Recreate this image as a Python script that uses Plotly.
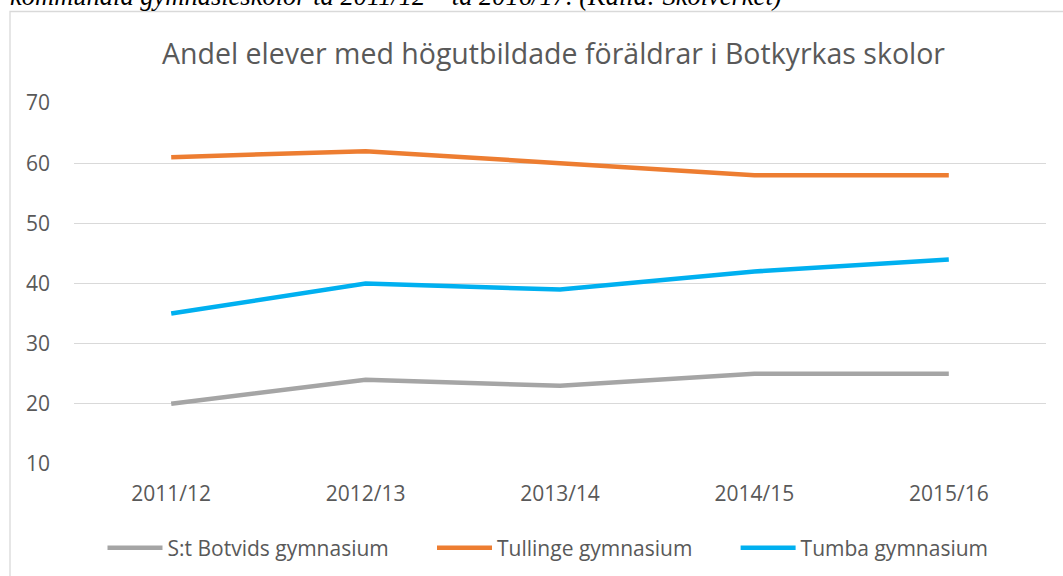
import plotly.graph_objects as go

categories = ["2011/12", "2012/13", "2013/14", "2014/15", "2015/16"]
botvid = [20, 24, 23, 25, 25]
tullinge = [61, 62, 60, 58, 58]
tumba = [35, 40, 39, 42, 44]
y_ticks = [10, 20, 30, 40, 50, 60, 70]

series = [
    ("S:t Botvids gymnasium", botvid, "#A5A5A5"),
    ("Tullinge gymnasium", tullinge, "#ED7D31"),
    ("Tumba gymnasium", tumba, "#00B0F0"),
]

W, H = 1063, 576
L, R, T, B = 74, 1046, 103, 464  # plot area in px


def px_x(px):
    return (px - L) / (R - L)


def px_y(py):
    return (B - py) / (B - T)


PAD = "\u00a0" * 7  # extra spacing between legend entries

fig = go.Figure()
for name, vals, col in series:
    fig.add_trace(go.Scatter(
        x=categories, y=vals, name=name + PAD, mode="lines",
        line=dict(color=col, width=4.5),
    ))

FONT = "Open Sans"
TXT = "#595959"

fig.update_layout(
    width=W, height=H,
    margin=dict(l=L, r=W - R, t=T, b=H - B, autoexpand=False),
    paper_bgcolor="white", plot_bgcolor="white",
    font=dict(family=FONT, color=TXT, size=21),
    showlegend=True,
    legend=dict(
        orientation="h", xref="container", yref="container",
        x=567 / W, y=1 - 548 / H,
        xanchor="center", yanchor="middle",
        font=dict(family=FONT, size=21, color=TXT),
        itemwidth=55, bgcolor="rgba(0,0,0,0)",
    ),
    xaxis=dict(
        type="category", range=[-0.5, 4.5], automargin=False,
        showgrid=False, zeroline=False, showline=False,
        tickfont=dict(family=FONT, size=21, color=TXT),
        ticks="", ticklabelstandoff=15,
    ),
    yaxis=dict(
        range=[10, 70], tickvals=y_ticks, automargin=False,
        showgrid=True, gridcolor="#D9D9D9", gridwidth=1.3,
        zeroline=False, showline=False,
        tickfont=dict(family=FONT, size=21, color=TXT),
        ticks="", ticklabelstandoff=23,
    ),
    shapes=[
        dict(type="rect", xref="paper", yref="paper",
             x0=px_x(10), x1=px_x(1075), y0=px_y(590), y1=px_y(11.5),
             line=dict(color="#D9D9D9", width=1.3), fillcolor="rgba(0,0,0,0)",
             layer="below"),
    ],
    annotations=[
        dict(text="Andel elever med högutbildade föräldrar i Botkyrkas skolor",
             xref="paper", yref="paper", x=px_x(553), y=px_y(53),
             xanchor="center", yanchor="middle", showarrow=False,
             font=dict(family=FONT, size=28.5, color=TXT)),
        dict(text="<i>kommunala gymnasieskolor ta 2011/12 – ta 2016/17. (Källa: Skolverket)</i>",
             xref="paper", yref="paper", x=px_x(8), y=px_y(13),
             xanchor="left", yanchor="bottom", showarrow=False,
             font=dict(family="Liberation Serif", size=26.5, color="#000000")),
    ],
)

fig.write_html("out.html", config={"displayModeBar": False},
               post_script="document.body.style.margin='0';")
